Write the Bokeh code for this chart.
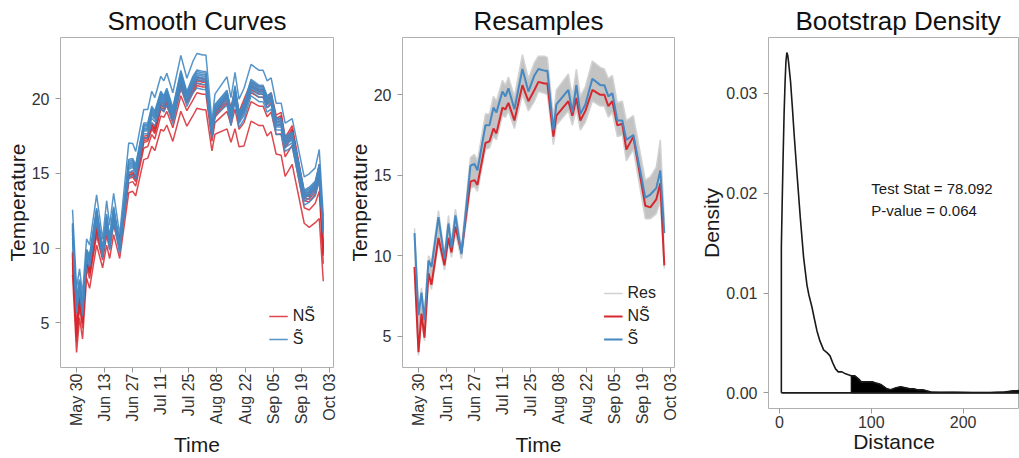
import numpy as np
from bokeh.plotting import figure
from bokeh.models import FixedTicker, Range1d, Legend, LegendItem, Label, NumeralTickFormatter
from bokeh.core.properties import value
from bokeh.embed import file_html
from bokeh.resources import INLINE

FONT = "Liberation Sans"
RED = "#D7282F"
BLUE = "#4588C2"

# ---------------- data ----------------
tick_days = [0, 14, 28, 42, 56, 70, 84, 98, 112, 126]
tick_labels = ["May 30", "Jun 13", "Jun 27", "Jul 11", "Jul 25",
               "Aug 08", "Aug 22", "Sep 05", "Sep 19", "Oct 03"]

# days since May 30
days = [-2, 0, 1.5, 3, 5, 6.5, 10, 13, 15, 16.5, 18.5, 21.5, 26, 28, 29.5,
        33.5, 35.5, 37.5, 39, 42, 43.5, 45, 48, 52, 55, 58, 60, 63, 64.5,
        67.5, 69, 75, 77, 79, 81, 83.5, 87, 91, 93, 95, 97, 99.5, 102, 104,
        107.5, 113.5, 116, 119, 121, 123]

s_mean = [11.4, 6.3, 7.7, 6.0, 9.7, 9.3, 12.4, 9.8, 12.0, 10.5, 12.5, 10.1,
          15.6, 15.7, 15.3, 18.1, 18.1, 19.2, 18.9, 20.2, 19.9, 20.4, 19.1,
          21.6, 20.2, 21.2, 21.6, 21.5, 21.5, 17.8, 19.4, 20.3, 18.9, 20.6,
          18.8, 19.4, 21.0, 20.6, 20.6, 19.9, 20.1, 18.4, 18.4, 17.2, 17.5,
          13.6, 13.8, 14.2, 15.3, 11.4]

ns_mean = [9.3, 4.0, 6.4, 4.9, 8.9, 8.2, 11.1, 9.4, 11.1, 10.2, 11.8, 10.2,
           14.6, 14.7, 14.4, 17.0, 17.1, 17.9, 17.6, 19.2, 19.1, 19.5, 18.4,
           20.6, 19.6, 20.3, 20.8, 20.7, 20.7, 17.4, 18.7, 19.6, 18.7, 19.8,
           18.4, 19.0, 20.3, 20.0, 20.0, 19.3, 19.6, 18.1, 18.2, 16.6, 17.4,
           13.1, 13.0, 13.5, 14.5, 9.4]

res_high = [11.7, 6.6, 8.0, 6.3, 10.0, 9.6, 12.8, 10.1, 12.5, 10.9, 12.9, 10.5,
            16.1, 16.3, 15.9, 18.8, 18.8, 19.9, 19.6, 20.9, 20.6, 21.1, 19.9,
            22.5, 21.0, 22.0, 22.4, 22.4, 22.3, 18.6, 20.3, 21.3, 19.9, 21.6,
            19.9, 20.5, 22.1, 21.7, 21.6, 21.0, 21.2, 19.5, 19.6, 18.4, 18.7,
            14.7, 14.9, 15.5, 17.2, 12.2]

res_low = [9.0, 3.8, 6.1, 4.7, 8.6, 7.9, 10.8, 9.1, 10.8, 9.9, 11.4, 9.8,
           14.2, 14.3, 14.0, 16.6, 16.7, 17.4, 17.2, 18.7, 18.6, 19.0, 17.9,
           20.0, 19.0, 19.6, 20.2, 20.1, 20.0, 16.9, 18.1, 19.0, 18.1, 19.1,
           17.8, 18.3, 19.6, 19.3, 19.3, 18.6, 18.9, 17.4, 17.5, 15.9, 16.6,
           12.3, 12.3, 12.6, 13.4, 9.2]

# spread of the individual smooth curves around their means
spread_red = [0.6, 0.55, 0.6, 0.55, 0.5, 0.5, 0.5, 0.4, 0.5, 0.5, 0.5, 0.5,
              0.5, 0.5, 0.5, 0.6, 0.6, 0.6, 0.6, 0.7, 0.7, 0.7, 0.7, 0.8,
              0.8, 0.8, 0.8, 0.8, 0.8, 0.5, 0.6, 0.9, 0.9, 1.0, 0.9, 1.2,
              1.0, 1.0, 1.0, 1.0, 1.0, 1.0, 1.1, 1.0, 1.0, 0.8, 0.9, 1.0,
              1.4, 0.9]
spread_blue = [0.9, 0.8, 0.7, 0.7, 0.7, 0.7, 0.9, 0.6, 0.9, 0.8, 0.9, 0.6,
               1.1, 1.0, 0.9, 0.9, 0.9, 1.0, 0.9, 1.0, 1.0, 1.0, 1.0, 1.0,
               0.9, 1.0, 1.1, 1.1, 1.1, 0.5, 0.7, 0.9, 0.9, 0.9, 0.9, 1.0,
               1.0, 1.0, 1.0, 1.0, 1.0, 1.0, 1.0, 0.9, 0.9, 0.9, 0.9, 0.9,
               1.0, 0.6]
red_offsets = [-1.8, -0.5, 0.1, 0.3, 0.5, 0.6, 0.8]
blue_offsets = [-0.8, -0.5, -0.3, -0.2, -0.1, 0.0, 0.1, 0.2, 0.3, 1.3]

dens_x = [2, 3, 4, 5, 6, 7, 8, 9, 10, 12, 14, 16, 19, 22.6, 26.2, 29.9, 32,
          35.3, 38, 40.8, 44, 48, 52, 55, 58, 61, 64, 68, 72, 75, 78.092, 82,
          86, 89, 92, 95, 98, 101, 104, 108, 111, 114, 117, 121, 124, 127,
          132, 137, 142, 146, 150, 156, 160, 165, 175, 190, 210, 230, 245,
          255, 262, 270, 282]
dens_y = [0.0146, 0.0195, 0.0240, 0.0280, 0.0310, 0.0332, 0.0341, 0.0338,
          0.0330, 0.0312, 0.0286, 0.0258, 0.0220, 0.0176, 0.0136, 0.0108,
          0.0098, 0.0086, 0.0074, 0.0062, 0.0052, 0.0043, 0.0040, 0.0037,
          0.0030, 0.0024, 0.0021, 0.0021, 0.0019, 0.0018, 0.0017, 0.0017,
          0.0014, 0.0011, 0.0011, 0.0011, 0.0011, 0.0011, 0.0010, 0.0009,
          0.0008, 0.0006, 0.0004, 0.0003, 0.0004, 0.0005, 0.0006, 0.0005,
          0.0004, 0.0004, 0.0003, 0.0003, 0.0002, 0.00008, 0.00005, 0.00006,
          0.00004, 0.00004, 0.00008, 0.0002, 0.00022, 0.0001, 0.0]
test_stat = 78.092
p_value = 0.064

assert len(dens_x) == len(dens_y)
for arr in (s_mean, ns_mean, res_high, res_low, spread_red, spread_blue):
    assert len(arr) == len(days)

H = 458  # page is drawn edge to edge (body margin set to 0 below)


# ---------------- styling helpers ----------------
def style(p, xlabel, ylabel, title, xlab_standoff=4):
    p.title.text = title
    p.title.align = "center"
    p.title.text_font = FONT
    p.title.text_font_size = "26px"
    p.title.text_font_style = "normal"
    p.title.text_color = "#111111"
    p.title.standoff = 3
    p.outline_line_color = "#b0b0b0"
    p.outline_line_width = 1
    p.xgrid.visible = False
    p.ygrid.visible = False
    p.background_fill_color = "white"
    p.border_fill_color = "white"
    for ax in (p.xaxis[0], p.yaxis[0]):
        ax.axis_line_color = None
        ax.major_tick_line_color = "#9a9a9a"
        ax.major_tick_out = 5
        ax.major_tick_in = 0
        ax.minor_tick_line_color = None
        ax.major_label_text_font = FONT
        ax.major_label_text_font_size = "16px"
        ax.major_label_text_color = "#333333"
        ax.axis_label_text_font = FONT
        ax.axis_label_text_font_size = "21px"
        ax.axis_label_text_font_style = "normal"
        ax.axis_label_text_color = "#1a1a1a"
    p.xaxis.major_label_standoff = 2
    p.yaxis.major_label_standoff = 6
    p.yaxis.axis_label_standoff = 0
    p.xaxis.axis_label_standoff = xlab_standoff
    p.xaxis.axis_label = xlabel
    p.yaxis.axis_label = ylabel


def time_axis(p):
    p.xaxis.ticker = FixedTicker(ticks=tick_days)
    p.xaxis.major_label_overrides = {d: l for d, l in zip(tick_days, tick_labels)}
    p.xaxis.major_label_orientation = np.pi / 2
    p.xaxis.major_label_standoff = 1
    p.yaxis.ticker = FixedTicker(ticks=[5, 10, 15, 20])


def make_legend(p, items):
    lg = Legend(items=items, location="bottom_right")
    lg.label_text_font = FONT
    lg.label_text_font_size = "16px"
    lg.label_text_color = "#222222"
    lg.glyph_width = 19
    lg.glyph_height = 20
    lg.label_height = 20
    lg.label_standoff = 5
    lg.spacing = 3
    lg.padding = 0
    lg.margin = 18
    lg.border_line_color = None
    lg.background_fill_alpha = 0
    p.add_layout(lg)


# ---------------- panel 1 ----------------
p1 = figure(width=340, height=H, output_backend="svg", toolbar_location=None,
            x_range=Range1d(-8, 128.1), y_range=Range1d(2.0, 24.1),
            min_border_left=60, min_border_right=7, min_border_top=37,
            min_border_bottom=91)
style(p1, "Time", "Temperature", "Smooth Curves")
time_axis(p1)

r_red = None
for off in red_offsets:
    ys = [m + off * s for m, s in zip(ns_mean, spread_red)]
    r = p1.line(days, ys, line_color=RED, line_width=1.5, line_alpha=0.85)
    r_red = r_red or r
r_blue = None
for off in blue_offsets:
    ys = [m + off * s for m, s in zip(s_mean, spread_blue)]
    r = p1.line(days, ys, line_color=BLUE, line_width=1.5, line_alpha=0.9)
    r_blue = r_blue or r
make_legend(p1, [LegendItem(label=value("NS\u0303"), renderers=[r_red]),
                 LegendItem(label=value("S\u0303"), renderers=[r_blue])])

# ---------------- panel 2 ----------------
p2 = figure(width=340, height=H, output_backend="svg", toolbar_location=None,
            x_range=Range1d(-8, 128.1), y_range=Range1d(3.05, 23.56),
            min_border_left=62, min_border_right=6, min_border_top=37,
            min_border_bottom=91)
style(p2, "Time", "Temperature", "Resamples")
time_axis(p2)
p2.varea(x=days, y1=res_low, y2=res_high, fill_color="#bdbdbd", fill_alpha=0.9)
r_res = p2.line(days, res_high, line_color="#d2d2d2", line_width=1.5)
p2.line(days, res_low, line_color="#d2d2d2", line_width=1.5)
r_ns = p2.line(days, ns_mean, line_color=RED, line_width=2)
r_s = p2.line(days, s_mean, line_color=BLUE, line_width=2)
make_legend(p2, [LegendItem(label=value("Res"), renderers=[r_res]),
                 LegendItem(label=value("NS\u0303"), renderers=[r_ns]),
                 LegendItem(label=value("S\u0303"), renderers=[r_s])])

# ---------------- panel 3 ----------------
p3 = figure(width=339, height=H, output_backend="svg", toolbar_location=None,
            x_range=Range1d(-12, 261.4), y_range=Range1d(-0.00157, 0.0356),
            min_border_left=88, min_border_right=0, min_border_top=37,
            min_border_bottom=50)
style(p3, "Distance", "Density", "Bootstrap Density", xlab_standoff=-1)
p3.title.align = "left"
p3.title.offset = 27
p3.xaxis.ticker = FixedTicker(ticks=[0, 100, 200])
p3.yaxis.ticker = FixedTicker(ticks=[0.0, 0.01, 0.02, 0.03])
p3.yaxis.formatter = NumeralTickFormatter(format="0.00")

tail_x = [x for x in dens_x if x >= test_stat]
tail_y = [y for x, y in zip(dens_x, dens_y) if x >= test_stat]
p3.patch([test_stat] + tail_x + [tail_x[-1]], [0.0] + tail_y + [0.0],
         fill_color="black", line_color="black", line_width=1)
outline_x = [dens_x[0]] + dens_x + [dens_x[0]]
outline_y = [0.0] + dens_y + [0.0]
p3.line(outline_x, outline_y, line_color="#1a1a1a", line_width=1.6)

for txt, yy in ((f"Test Stat = {test_stat:.3f}", 0.02044),
                (f"P-value = {p_value:.3f}", 0.01829)):
    p3.add_layout(Label(x=100, y=yy, text=txt, text_font=FONT,
                        text_font_size="15px", text_color="#1a1a1a",
                        text_align="left", text_baseline="alphabetic"))

# three independent roots laid side by side, page drawn edge to edge
template = """
{% block postamble %}
<style>
  html, body { margin: 0; padding: 0; overflow: hidden; }
  body { display: flex; flex-direction: row; align-items: flex-start; }
</style>
{% endblock %}
"""
open("out.html", "w").write(file_html([p1, p2, p3], INLINE, template=template))
